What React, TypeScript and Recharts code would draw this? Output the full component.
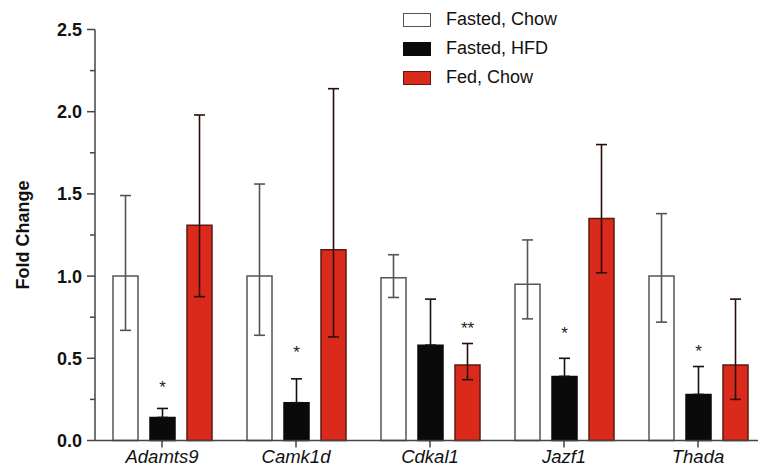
import { BarChart, Bar, XAxis, YAxis, ErrorBar, LabelList } from 'recharts'

const genes = ['Adamts9', 'Camk1d', 'Cdkal1', 'Jazf1', 'Thada']

const fastedChow = [1.0, 1.0, 0.99, 0.95, 1.0]
const fastedChowLow = [0.67, 0.64, 0.87, 0.74, 0.72]
const fastedChowHigh = [1.49, 1.56, 1.13, 1.22, 1.38]

// lower whisker of the black bars is hidden inside the bar
const fastedHfd = [0.14, 0.23, 0.58, 0.39, 0.28]
const fastedHfdHigh = [0.195, 0.375, 0.86, 0.5, 0.45]

const fedChow = [1.31, 1.16, 0.46, 1.35, 0.46]
const fedChowLow = [0.875, 0.63, 0.37, 1.02, 0.25]
const fedChowHigh = [1.98, 2.14, 0.59, 1.8, 0.86]

const hfdSig = ['*', '*', '', '*', '*']
const hfdSigPos = [0.35, 0.56, 0, 0.68, 0.57]
const fedSig = ['', '', '**', '', '']
const fedSigPos = [0, 0, 0.71, 0, 0]

const yTicks = [0, 0.25, 0.5, 0.75, 1, 1.25, 1.5, 1.75, 2, 2.25, 2.5]

const series = [
  { name: 'Fasted, Chow', fill: '#ffffff', stroke: '#555555' },
  { name: 'Fasted, HFD', fill: '#0a0a0a', stroke: '#0a0a0a' },
  { name: 'Fed, Chow', fill: '#da2a1c', stroke: '#5c1a12' },
]

const data = genes.map((g, i) => ({
  gene: g,
  chow: fastedChow[i],
  chowErr: [fastedChow[i] - fastedChowLow[i], fastedChowHigh[i] - fastedChow[i]],
  hfd: fastedHfd[i],
  hfdErr: [0, fastedHfdHigh[i] - fastedHfd[i]],
  fed: fedChow[i],
  fedErr: [fedChow[i] - fedChowLow[i], fedChowHigh[i] - fedChow[i]],
}))

const FONT = '"Liberation Sans", Arial, Helvetica, sans-serif'

function YTick(props: any) {
  const { x, y, payload } = props
  const v = payload.value as number
  const major = Math.abs(v * 2 - Math.round(v * 2)) < 1e-6
  return (
    <g>
      <line x1={x + (major ? 5 : 8)} x2={x + 13} y1={y} y2={y} stroke="#444" strokeWidth={1.5} />
      {major && (
        <text x={x} y={y} dy="0.36em" textAnchor="end" fontSize={18} fontWeight="bold" fill="#111" fontFamily={FONT}>
          {v.toFixed(1)}
        </text>
      )}
    </g>
  )
}

function sigLabel(marks: string[], pos: number[]) {
  return (props: any) => {
    const { x, y, width, height, value, index } = props
    const mark = marks[index]
    if (!mark) return null
    const k = height / value
    const cy = y + (value - pos[index]) * k
    return (
      <text x={x + width / 2} y={cy + 10} textAnchor="middle" fontSize={17} fill="#222" fontFamily={FONT}>
        {mark}
      </text>
    )
  }
}

function LegendBox() {
  return (
    <div style={{ position: 'absolute', left: 403, top: 5, fontFamily: FONT }}>
      {series.map((s) => (
        <div key={s.name} style={{ display: 'flex', alignItems: 'center', height: 29 }}>
          <div
            style={{
              width: 26,
              height: 12,
              background: s.fill,
              border: `1.5px solid ${s.stroke}`,
              marginRight: 15,
            }}
          />
          <span style={{ fontSize: 18, color: '#111' }}>{s.name}</span>
        </div>
      ))}
    </div>
  )
}

export default function App() {
  return (
    <div style={{ position: 'absolute', left: 0, top: 0, width: 758, height: 474, overflow: 'hidden', background: '#fff' }}>
      <BarChart
        width={800}
        height={474}
        data={data}
        margin={{ top: 29.5, right: 35, bottom: 0, left: 0 }}
        barCategoryGap={18}
        barGap={12}
      >
        <XAxis
          dataKey="gene"
          height={33.5}
          tickSize={7}
          tickMargin={2}
          axisLine={{ stroke: '#444', strokeWidth: 1.5 }}
          tickLine={{ stroke: '#444', strokeWidth: 1.5 }}
          tick={{ fill: '#111', fontSize: 18.5, fontStyle: 'italic', fontFamily: FONT }}
        />
        <YAxis
          domain={[0, 2.5]}
          ticks={yTicks}
          width={95}
          tickSize={8}
          tickMargin={5}
          interval={0}
          tickLine={false}
          axisLine={{ stroke: '#444', strokeWidth: 1.5 }}
          tick={<YTick />}
          label={{
            value: 'Fold Change',
            angle: -90,
            position: 'insideLeft',
            offset: 23,
            style: { textAnchor: 'middle', fontSize: 18, fontWeight: 'bold', fill: '#111', fontFamily: FONT },
          }}
        />
        <Bar dataKey="chow" name={series[0].name} fill={series[0].fill} stroke={series[0].stroke} strokeWidth={1.5} isAnimationActive={false}>
          <ErrorBar dataKey="chowErr" direction="y" width={5.5} stroke="#555" strokeWidth={1.6} />
        </Bar>
        <Bar dataKey="hfd" name={series[1].name} fill={series[1].fill} stroke={series[1].stroke} strokeWidth={1.5} isAnimationActive={false}>
          <ErrorBar dataKey="hfdErr" direction="y" width={5.5} stroke="#111" strokeWidth={1.6} />
          <LabelList dataKey="hfd" content={sigLabel(hfdSig, hfdSigPos)} />
        </Bar>
        <Bar dataKey="fed" name={series[2].name} fill={series[2].fill} stroke={series[2].stroke} strokeWidth={1.5} isAnimationActive={false}>
          <ErrorBar dataKey="fedErr" direction="y" width={5.5} stroke="#2a0d08" strokeWidth={1.6} />
          <LabelList dataKey="fed" content={sigLabel(fedSig, fedSigPos)} />
        </Bar>
      </BarChart>
      <LegendBox />
    </div>
  )
}
